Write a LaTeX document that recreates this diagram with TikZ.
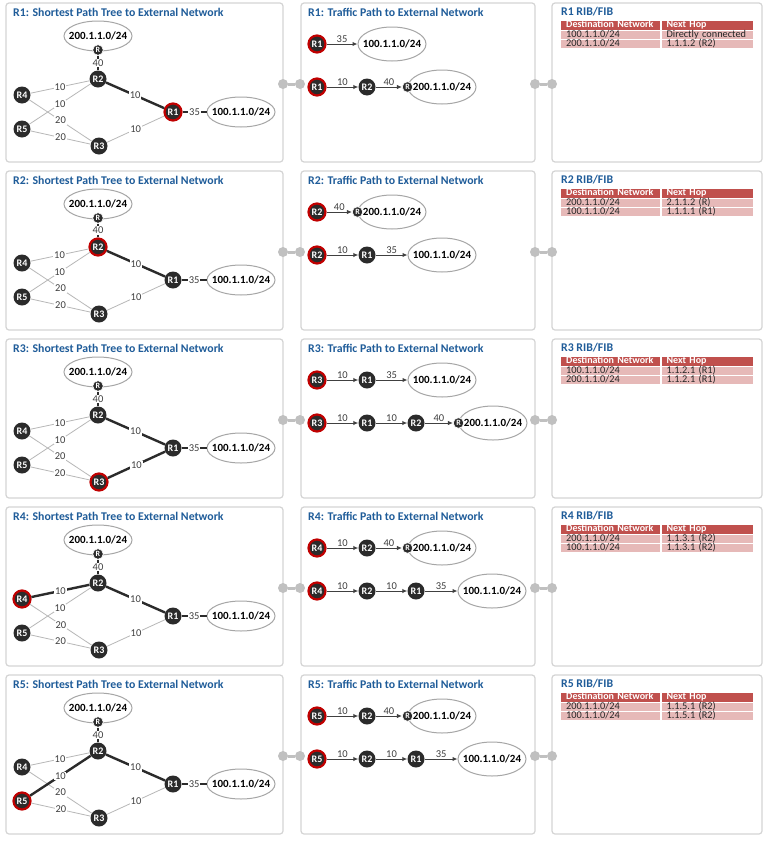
\documentclass[tikz,border=0pt]{standalone}
\usepackage{fontspec}
\setmainfont{Carlito}
\usetikzlibrary{positioning, shapes.geometric, arrows.meta}

\definecolor{titleblue}{HTML}{1F5C99}
\definecolor{hlred}{HTML}{C00000}
\definecolor{headred}{HTML}{C0504D}
\definecolor{rowpink}{HTML}{E6B9B8}
\definecolor{panelgray}{HTML}{D4D4D4}
\definecolor{jointgray}{HTML}{C0C0C0}
\definecolor{linkgray}{HTML}{B8B8B8}
\definecolor{netgray}{HTML}{A6A6A6}
\definecolor{nodeblack}{HTML}{2B2B2B}
\definecolor{textgray}{HTML}{404040}

\tikzset{
	panel/.style={draw=panelgray, line width=1.2pt, rounded corners=3pt},
	paneltitle/.style={anchor=west, inner sep=0pt, text=titleblue, font=\bfseries\fontsize{11.8}{13}\selectfont},
	rtr/.style={circle, fill=nodeblack, text=white, minimum size=17pt, inner sep=0pt, font=\bfseries\fontsize{10}{10}\selectfont},
	hl/.style={draw=hlred, line width=2.2pt},
	hlR1/.style={}, hlR2/.style={}, hlR3/.style={}, hlR4/.style={}, hlR5/.style={},
	net/.style={ellipse, draw=netgray, line width=1pt, minimum width=68pt, minimum height=30pt, inner xsep=-8pt, inner ysep=-2pt, font=\bfseries\fontsize{11}{12}\selectfont},
	netpath/.style={net, minimum height=34pt},
	rmark/.style={circle, fill=nodeblack, draw=white, line width=0.6pt, text=white, minimum size=10.5pt, inner sep=0pt, font=\bfseries\fontsize{8}{8}\selectfont},
	link/.style={draw=linkgray, line width=0.8pt},
	spt/.style={draw=nodeblack, line width=2.4pt},
	e31/.style={}, e42/.style={}, e52/.style={},
	cost/.style={fill=white, inner sep=0.8pt, text=textgray, font=\fontsize{10.5}{11}\selectfont},
	hop/.style={draw=textgray, line width=1pt, -{Latex[length=5pt, width=4.5pt]}},
	hopcost/.style={above, inner sep=0.6pt, text=textgray, font=\fontsize{10.5}{11}\selectfont},
	joint/.style={circle, fill=jointgray, minimum size=10pt, inner sep=0pt},
	jointbar/.style={draw=jointgray, line width=3pt},
	ribhead/.style={fill=headred, text=white, font=\bfseries\fontsize{10}{10}\selectfont, inner xsep=5pt, inner ysep=0pt, text height=6.8pt, text depth=2.2pt, align=left},
	ribrow/.style={fill=rowpink, text=black!85, font=\fontsize{10.3}{10}\selectfont, inner xsep=5pt, inner ysep=0pt, text height=6.2pt, text depth=1.3pt, align=left},
}

\begin{document}
\begin{tikzpicture}[x=1pt, y=-1pt]
	\path[use as bounding box, fill=white] (0,0) rectangle (769,841);

	% one row per router: panels, tree, RIB/FIB
	\foreach \i/\me/\sp/\da/\ha/\db/\hb in {
		1/R1/21/1/{Directly connected}/2/{1.1.1.2 (R2)},
		2/R2/21/2/{2.1.1.2 (R)}/1/{1.1.1.1 (R1)},
		3/R3/31/1/{1.1.2.1 (R1)}/2/{1.1.2.1 (R1)},
		4/R4/42/2/{1.1.3.1 (R2)}/1/{1.1.3.1 (R2)},
		5/R5/52/2/{1.1.5.1 (R2)}/1/{1.1.5.1 (R2)}}
	{
		\begin{scope}[yshift={-(\i-1)*168pt}]
			\tikzset{hl\me/.style={hl}, e\sp/.style={spt}}
			\draw[panel] (6,3) rectangle (283,162);
			\draw[panel] (301,3) rectangle (535,162);
			\draw[panel] (552,3) rectangle (762,162);
			\node[paneltitle] (t1) at (13,12) {\me: Shortest Path Tree to External Network};
			\node[paneltitle] (t2) at (308,12) {\me: Traffic Path to External Network};
			\node[paneltitle] (t3) at (561,12) {\me\ RIB/FIB};

			\node[joint] (ja) at (283,84) {};
			\node[joint] (jb) at (300,84) {};
			\node[joint] (jc) at (535,84) {};
			\node[joint] (jd) at (552,84) {};
			\draw[jointbar] (ja) -- (jb);
			\draw[jointbar] (jc) -- (jd);

			% shortest path tree
			\node[net] (n200) at (98,36) {200.1.1.0/24};
			\node[rmark] (rm) at (98,50) {R};
			\node[rtr, hlR2] (R2) at (98,79) {R2};
			\node[rtr, hlR4] (R4) at (22,95) {R4};
			\node[rtr, hlR5] (R5) at (22,129) {R5};
			\node[rtr, hlR3] (R3) at (99,146) {R3};
			\node[rtr, hlR1] (R1) at (173,112) {R1};
			\node[net] (n100) at (241,112) {100.1.1.0/24};
			\draw[link] (R4) -- (R3) node[cost, midway] {20};
			\draw[link] (R5) -- (R3) node[cost, midway] {20};
			\draw[link, e31] (R3) -- (R1) node[cost, midway] {10};
			\draw[link, e42] (R4) -- (R2) node[cost, midway] {10};
			\draw[link, e52] (R5) -- (R2) node[cost, midway] {10};
			\draw[spt] (R2) -- (R1) node[cost, midway] {10};
			\draw[spt] (R2) -- (rm) node[cost, midway] {40};
			\draw[spt] (R1) -- (n100) node[cost, midway] {35};

			% RIB/FIB
			\node[ribhead, text width=89pt, anchor=north west] (h1) at (561,20.5) {Destination\ Network};
			\node[ribhead, text width=81pt, right=1pt of h1] (h2) {Next Hop};
			\node[ribrow, text width=89pt, below=1pt of h1] (d1) {\da00.1.1.0/24};
			\node[ribrow, text width=81pt, below=1pt of h2] (x1) {\ha};
			\node[ribrow, text width=89pt, below=1pt of d1] (d2) {\db00.1.1.0/24};
			\node[ribrow, text width=81pt, below=1pt of x1] (x2) {\hb};
		\end{scope}
	}

	% traffic paths
	\begin{scope}
		\node[rtr, hl] (a1) at (317,44) {R1};
		\node[netpath] (a9) at (392,44) {100.1.1.0/24};
		\draw[hop] (a1) -- (a9) node[hopcost, midway] {35};
		\node[rtr, hl] (b1) at (317,87) {R1};
		\node[rtr] (b2) at (367,87) {R2};
		\node[netpath] (b9) at (442,87) {200.1.1.0/24};
		\node[rmark] (bR) at (b9.west) {R};
		\draw[hop] (b1) -- (b2) node[hopcost, midway] {10};
		\draw[hop] (b2) -- (bR) node[hopcost, midway] {40};
	\end{scope}
	\begin{scope}[yshift=-168pt]
		\node[rtr, hl] (a1) at (317,44) {R2};
		\node[netpath] (a9) at (392,44) {200.1.1.0/24};
		\node[rmark] (aR) at (a9.west) {R};
		\draw[hop] (a1) -- (aR) node[hopcost, midway] {40};
		\node[rtr, hl] (b1) at (317,87) {R2};
		\node[rtr] (b2) at (367,87) {R1};
		\node[netpath] (b9) at (442,87) {100.1.1.0/24};
		\draw[hop] (b1) -- (b2) node[hopcost, midway] {10};
		\draw[hop] (b2) -- (b9) node[hopcost, midway] {35};
	\end{scope}
	\begin{scope}[yshift=-336pt]
		\node[rtr, hl] (a1) at (317,44) {R3};
		\node[rtr] (a2) at (367,44) {R1};
		\node[netpath] (a9) at (442,44) {100.1.1.0/24};
		\draw[hop] (a1) -- (a2) node[hopcost, midway] {10};
		\draw[hop] (a2) -- (a9) node[hopcost, midway] {35};
		\node[rtr, hl] (b1) at (317,87) {R3};
		\node[rtr] (b2) at (367,87) {R1};
		\node[rtr] (b3) at (416,87) {R2};
		\node[netpath] (b9) at (493,87) {200.1.1.0/24};
		\node[rmark] (bR) at (b9.west) {R};
		\draw[hop] (b1) -- (b2) node[hopcost, midway] {10};
		\draw[hop] (b2) -- (b3) node[hopcost, midway] {10};
		\draw[hop] (b3) -- (bR) node[hopcost, midway] {40};
	\end{scope}
	\foreach \i/\me in {4/R4, 5/R5}
	{
		\begin{scope}[yshift={-(\i-1)*168pt}]
			\node[rtr, hl] (a1) at (317,44) {\me};
			\node[rtr] (a2) at (367,44) {R2};
			\node[netpath] (a9) at (442,44) {200.1.1.0/24};
			\node[rmark] (aR) at (a9.west) {R};
			\draw[hop] (a1) -- (a2) node[hopcost, midway] {10};
			\draw[hop] (a2) -- (aR) node[hopcost, midway] {40};
			\node[rtr, hl] (b1) at (317,87) {\me};
			\node[rtr] (b2) at (367,87) {R2};
			\node[rtr] (b3) at (416,87) {R1};
			\node[netpath] (b9) at (492,87) {100.1.1.0/24};
			\draw[hop] (b1) -- (b2) node[hopcost, midway] {10};
			\draw[hop] (b2) -- (b3) node[hopcost, midway] {10};
			\draw[hop] (b3) -- (b9) node[hopcost, midway] {35};
		\end{scope}
	}
\end{tikzpicture}
\end{document}
